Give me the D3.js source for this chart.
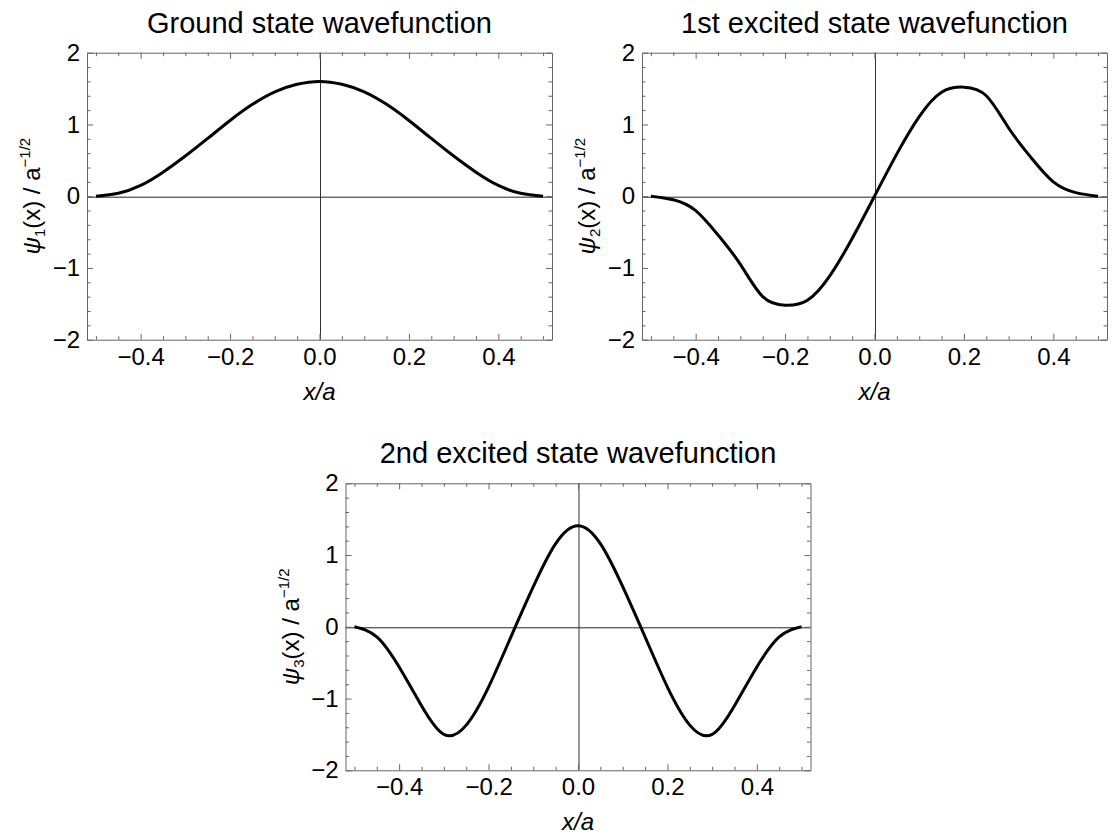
<!DOCTYPE html>
<html lang="en">
<head>
<meta charset="UTF-8"/>
<title>Wavefunctions</title>
<script src="https://d3js.org/d3.v7.min.js"></script>
<style>
body { margin: 0; background: #fff; }
text { font-family: "Liberation Sans", Arial, sans-serif; fill: #000; }
</style>
</head>
<body>
<script>
// sample positions x/a
var xValues = [-0.5,-0.45,-0.4,-0.35,-0.3,-0.25,-0.2,-0.15,-0.1,-0.05,0,
               0.05,0.1,0.15,0.2,0.25,0.3,0.35,0.4,0.45,0.5];

// values
var psi1 = [0,0.04,0.15,0.335,0.56,0.805,1.055,1.28,1.455,1.56,1.60,
            1.56,1.455,1.28,1.055,0.805,0.56,0.335,0.15,0.04,0];
var psi2 = [0,-0.05,-0.20,-0.54,-0.95,-1.40,-1.52,-1.45,-1.11,-0.59,0,
            0.59,1.11,1.45,1.52,1.40,0.95,0.54,0.20,0.05,0];
var psi3 = [0,-0.14,-0.56,-1.10,-1.50,-1.37,-0.84,-0.14,0.56,1.16,1.41,
            1.16,0.56,-0.14,-0.84,-1.37,-1.50,-1.10,-0.56,-0.14,0];

var titles = ["Ground state wavefunction", "1st excited state wavefunction", "2nd excited state wavefunction"];
var subscripts = ["1", "2", "3"];

var xMajor = [-0.4,-0.2,0,0.2,0.4];
var xMinor = [-0.5,-0.45,-0.35,-0.3,-0.25,-0.15,-0.1,-0.05,0.05,0.1,0.15,0.25,0.3,0.35,0.45,0.5];
var yMajor = [-2,-1,0,1,2];
var yMinor = [-1.8,-1.6,-1.4,-1.2,-0.8,-0.6,-0.4,-0.2,0.2,0.4,0.6,0.8,1.2,1.4,1.6,1.8];

var W = 1114, H = 840;
var w = 465, h = 287;
var frameColor = "#666";

var svg = d3.select("body").append("svg").attr("width", W).attr("height", H);

var panels = [
    {left: 87,  top: 52.7,  values: psi1, title: titles[0], sub: subscripts[0]},
    {left: 642, top: 52.7,  values: psi2, title: titles[1], sub: subscripts[1]},
    {left: 345.5, top: 483.3, values: psi3, title: titles[2], sub: subscripts[2]}
];

function fmtX(d) {
    return (d < 0 ? "\u2212" : "") + Math.abs(d).toFixed(1);
}
function fmtY(d) {
    return (d < 0 ? "\u2212" : "") + Math.abs(d);
}

function styleAxis(sel, keepDomain) {
    sel.selectAll("line").attr("stroke", frameColor);
    if (keepDomain) sel.select(".domain").attr("stroke", frameColor);
    else sel.select(".domain").remove();
    sel.selectAll("text").attr("font-size", "24px").attr("font-family", "Liberation Sans, Arial, sans-serif").attr("fill", "#000");
}

panels.forEach(function(p) {
    var g = svg.append("g").attr("transform", "translate(" + p.left + "," + p.top + ")");

    var x = d3.scaleLinear().domain([-0.52, 0.52]).range([0, w]);
    var y = d3.scaleLinear().domain([-2, 2]).range([h, 0]);

    // axes through origin
    g.append("line")
        .attr("x1", 0).attr("x2", w)
        .attr("y1", Math.round(y(0)) + 0.5).attr("y2", Math.round(y(0)) + 0.5)
        .attr("stroke", "#222").attr("stroke-width", 1);
    g.append("line")
        .attr("x1", Math.round(x(0)) + 0.5).attr("x2", Math.round(x(0)) + 0.5)
        .attr("y1", 0).attr("y2", h)
        .attr("stroke", "#333").attr("stroke-width", 1);

    // curve
    var line = d3.line()
        .x(function(d) { return x(d[0]); })
        .y(function(d) { return y(d[1]); })
        .curve(d3.curveNatural);
    g.append("path")
        .datum(d3.zip(xValues, p.values))
        .attr("d", line)
        .attr("fill", "none")
        .attr("stroke", "#000")
        .attr("stroke-width", 3)
        .attr("stroke-linejoin", "round");

    // frame: bottom
    g.append("g").attr("transform", "translate(0," + h + ")")
        .call(d3.axisBottom(x).tickValues(xMajor).tickSizeInner(-6).tickSizeOuter(0).tickPadding(8).tickFormat(fmtX))
        .call(styleAxis, true);
    g.append("g").attr("transform", "translate(0," + h + ")")
        .call(d3.axisBottom(x).tickValues(xMinor).tickSizeInner(-3.5).tickSizeOuter(0).tickFormat(""))
        .call(styleAxis, false);
    // top
    g.append("g")
        .call(d3.axisTop(x).tickValues(xMajor).tickSizeInner(-6).tickSizeOuter(0).tickFormat(""))
        .call(styleAxis, true);
    g.append("g")
        .call(d3.axisTop(x).tickValues(xMinor).tickSizeInner(-3.5).tickSizeOuter(0).tickFormat(""))
        .call(styleAxis, false);
    // left
    g.append("g")
        .call(d3.axisLeft(y).tickValues(yMajor).tickSizeInner(-6).tickSizeOuter(0).tickPadding(7).tickFormat(fmtY))
        .call(styleAxis, true);
    g.append("g")
        .call(d3.axisLeft(y).tickValues(yMinor).tickSizeInner(-3.5).tickSizeOuter(0).tickFormat(""))
        .call(styleAxis, false);
    // right
    g.append("g").attr("transform", "translate(" + w + ",0)")
        .call(d3.axisRight(y).tickValues(yMajor).tickSizeInner(-6).tickSizeOuter(0).tickFormat(""))
        .call(styleAxis, true);
    g.append("g").attr("transform", "translate(" + w + ",0)")
        .call(d3.axisRight(y).tickValues(yMinor).tickSizeInner(-3.5).tickSizeOuter(0).tickFormat(""))
        .call(styleAxis, false);

    // title
    g.append("text")
        .attr("x", w / 2).attr("y", -20)
        .attr("text-anchor", "middle")
        .attr("font-size", "29px")
        .text(p.title);

    // x label
    g.append("text")
        .attr("x", w / 2).attr("y", h + 60)
        .attr("text-anchor", "middle")
        .attr("font-size", "24px")
        .attr("font-style", "italic")
        .text("x/a");

    // y label
    var yl = g.append("text")
        .attr("transform", "translate(-47," + (h / 2) + ") rotate(-90)")
        .attr("text-anchor", "middle")
        .attr("font-size", "24px");
    yl.append("tspan").attr("font-style", "italic").text("\u03c8");
    yl.append("tspan").attr("font-size", "15px").attr("dy", 5).text(p.sub);
    yl.append("tspan").attr("dy", -5).text("(x) / a");
    yl.append("tspan").attr("font-size", "15px").attr("dy", -10).text("\u22121/2");
});
</script>
</body>
</html>
